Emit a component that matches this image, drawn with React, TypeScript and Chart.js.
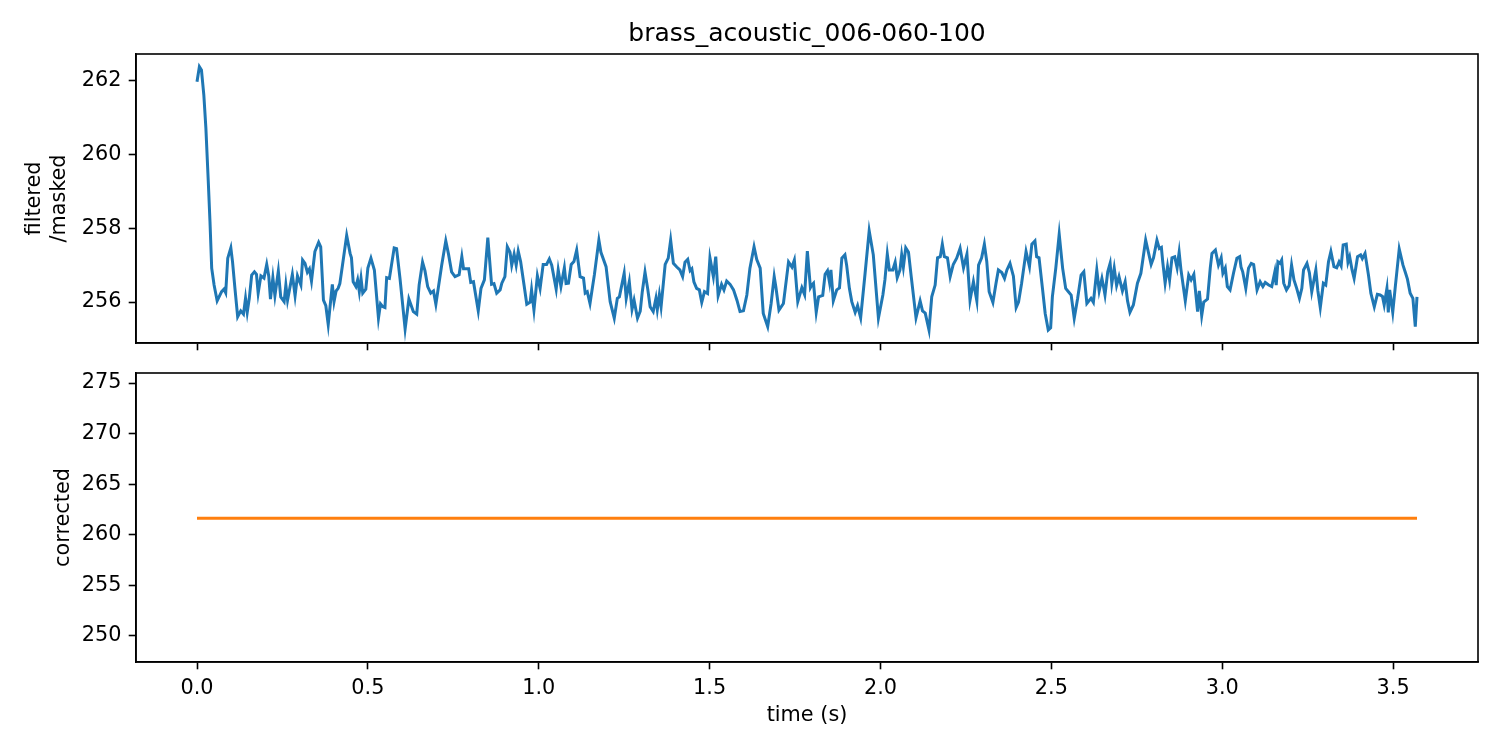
import React, { useEffect, useRef } from "react";
import { Chart, registerables } from "chart.js";

Chart.register(...registerables);

const TITLE = "brass_acoustic_006-060-100";

const filteredTimes = [
  0, 0.007, 0.013, 0.02, 0.026, 0.033, 0.038, 0.043, 0.05, 0.059, 0.072, 0.079, 0.084, 0.09, 0.099, 0.104,
  0.111, 0.119, 0.128, 0.136, 0.142, 0.147, 0.153, 0.16, 0.168, 0.174, 0.179, 0.187, 0.196, 0.204, 0.21,
  0.215, 0.222, 0.228, 0.238, 0.245, 0.255, 0.26, 0.265, 0.279, 0.287, 0.294, 0.304, 0.309, 0.316, 0.323,
  0.329, 0.335, 0.345, 0.356, 0.362, 0.37, 0.377, 0.384, 0.396, 0.401, 0.407, 0.413, 0.418, 0.426, 0.438,
  0.448, 0.452, 0.457, 0.465, 0.47, 0.475, 0.48, 0.485, 0.494, 0.5, 0.509, 0.519, 0.531, 0.537, 0.543,
  0.55, 0.555, 0.563, 0.577, 0.584, 0.594, 0.609, 0.62, 0.633, 0.643, 0.65, 0.66, 0.667, 0.675, 0.684,
  0.692, 0.699, 0.716, 0.728, 0.736, 0.745, 0.755, 0.767, 0.775, 0.78, 0.795, 0.801, 0.809, 0.823, 0.831,
  0.841, 0.851, 0.862, 0.869, 0.877, 0.887, 0.892, 0.901, 0.908, 0.916, 0.921, 0.928, 0.934, 0.94, 0.947,
  0.957, 0.965, 0.975, 0.979, 0.986, 0.996, 1.004, 1.013, 1.023, 1.031, 1.038, 1.051, 1.057, 1.065, 1.075,
  1.08, 1.087, 1.095, 1.103, 1.111, 1.121, 1.131, 1.136, 1.142, 1.15, 1.163, 1.176, 1.182, 1.197, 1.209,
  1.221, 1.23, 1.236, 1.25, 1.256, 1.265, 1.273, 1.279, 1.289, 1.297, 1.303, 1.311, 1.319, 1.326, 1.335,
  1.343, 1.347, 1.353, 1.358, 1.37, 1.379, 1.386, 1.394, 1.404, 1.413, 1.421, 1.428, 1.436, 1.443, 1.448,
  1.454, 1.462, 1.47, 1.477, 1.485, 1.494, 1.501, 1.511, 1.518, 1.525, 1.535, 1.542, 1.55, 1.56, 1.57,
  1.58, 1.589, 1.599, 1.609, 1.618, 1.63, 1.638, 1.648, 1.657, 1.67, 1.68, 1.689, 1.694, 1.703, 1.716,
  1.731, 1.741, 1.748, 1.758, 1.77, 1.778, 1.786, 1.795, 1.799, 1.804, 1.812, 1.819, 1.831, 1.838, 1.845,
  1.851, 1.855, 1.862, 1.872, 1.88, 1.887, 1.896, 1.901, 1.909, 1.916, 1.926, 1.933, 1.942, 1.955, 1.967,
  1.979, 1.994, 2.007, 2.013, 2.02, 2.026, 2.036, 2.043, 2.049, 2.057, 2.062, 2.067, 2.074, 2.082, 2.09,
  2.104, 2.116, 2.123, 2.131, 2.142, 2.15, 2.16, 2.167, 2.175, 2.181, 2.187, 2.196, 2.204, 2.213, 2.223,
  2.233, 2.243, 2.253, 2.262, 2.272, 2.282, 2.287, 2.296, 2.304, 2.311, 2.318, 2.329, 2.338, 2.345, 2.355,
  2.363, 2.37, 2.379, 2.389, 2.397, 2.404, 2.413, 2.426, 2.436, 2.443, 2.452, 2.457, 2.464, 2.474, 2.482,
  2.491, 2.498, 2.503, 2.513, 2.523, 2.533, 2.542, 2.55, 2.558, 2.567, 2.577, 2.587, 2.595, 2.604, 2.616,
  2.623, 2.633, 2.64, 2.648, 2.653, 2.657, 2.665, 2.672, 2.677, 2.684, 2.691, 2.698, 2.708, 2.716, 2.723,
  2.73, 2.74, 2.752, 2.762, 2.776, 2.784, 2.792, 2.799, 2.809, 2.816, 2.822, 2.826, 2.833, 2.84, 2.846,
  2.853, 2.861, 2.868, 2.874, 2.879, 2.892, 2.902, 2.909, 2.917, 2.923, 2.928, 2.933, 2.94, 2.946, 2.957,
  2.965, 2.97, 2.98, 2.989, 2.997, 3.002, 3.009, 3.015, 3.023, 3.033, 3.043, 3.051, 3.055, 3.06, 3.069,
  3.077, 3.085, 3.092, 3.102, 3.111, 3.119, 3.126, 3.136, 3.145, 3.154, 3.158, 3.163, 3.169, 3.174, 3.18,
  3.188, 3.196, 3.203, 3.21, 3.218, 3.226, 3.233, 3.238, 3.248, 3.255, 3.262, 3.274, 3.28, 3.287, 3.296,
  3.303, 3.311, 3.318, 3.327, 3.335, 3.342, 3.348, 3.354, 3.363, 3.368, 3.373, 3.38, 3.386, 3.396, 3.405,
  3.41, 3.418, 3.428, 3.435, 3.445, 3.454, 3.462, 3.469, 3.474, 3.482, 3.486, 3.49, 3.499, 3.506, 3.518,
  3.529, 3.536, 3.542, 3.55, 3.558, 3.565, 3.57,
];

const filteredValues = [
  261.98, 262.39, 262.3, 261.62, 260.72, 259.27, 258.18, 256.92, 256.46, 256.03, 256.28, 256.35, 256.25, 257.19, 257.47, 257.09,
  256.37, 255.6, 255.76, 255.67, 256.1, 255.72, 256.1, 256.73, 256.82, 256.75, 256.24, 256.71, 256.65, 257.02, 256.7,
  256.08, 256.66, 256.17, 256.84, 256.14, 256.01, 256.46, 256.05, 256.75, 256.17, 256.71, 256.46, 257.14, 257.05, 256.81,
  256.9, 256.57, 257.37, 257.62, 257.5, 256.05, 255.9, 255.39, 256.48, 256.01, 256.3, 256.37, 256.5, 257.02, 257.81,
  257.32, 257.2, 256.55, 256.42, 256.6, 256.28, 256.64, 256.24, 256.35, 256.92, 257.19, 256.87, 255.56, 255.95, 255.88,
  255.85, 256.66, 256.64, 257.47, 257.45, 256.64, 255.27, 256.08, 255.74, 255.67, 256.46, 257.08, 256.85, 256.42, 256.24,
  256.3, 255.94, 257.0, 257.66, 257.3, 256.82, 256.69, 256.74, 257.23, 256.9, 256.9, 256.53, 256.55, 255.76, 256.37,
  256.6, 257.75, 256.48, 256.5, 256.24, 256.33, 256.51, 256.69, 257.5, 257.35, 257.0, 257.3, 257.0, 257.38, 257.1,
  256.46, 255.94, 256.0, 256.33, 255.78, 256.71, 256.37, 257.02, 257.02, 257.17, 257.0, 256.35, 256.87, 256.42, 256.93,
  256.5, 256.51, 257.02, 257.1, 257.41, 256.69, 256.65, 256.24, 256.28, 255.96, 256.75, 257.68, 257.35, 256.96, 256.01,
  255.56, 256.1, 256.14, 256.78, 256.1, 256.55, 255.8, 256.05, 255.56, 255.75, 256.28, 256.81, 256.35, 255.87, 255.74,
  256.1, 255.8, 256.2, 255.87, 257.02, 257.19, 257.68, 257.05, 256.95, 256.87, 256.69, 257.08, 257.16, 256.85, 256.9,
  256.55, 256.37, 256.33, 255.99, 256.28, 256.23, 257.2, 256.69, 257.23, 256.17, 256.48, 256.33, 256.57, 256.48, 256.33,
  256.05, 255.74, 255.76, 256.19, 256.92, 257.5, 257.15, 256.92, 255.69, 255.33, 255.96, 256.69, 256.4, 255.78, 255.96,
  257.09, 256.95, 257.14, 256.01, 256.39, 256.2, 257.38, 256.39, 256.46, 256.51, 255.72, 256.14, 256.18, 256.75, 256.85,
  256.53, 256.87, 256.03, 256.33, 256.38, 257.19, 257.28, 257.0, 256.37, 256.01, 255.72, 255.9, 255.57, 256.78, 257.93,
  257.28, 255.56, 256.19, 256.6, 257.3, 256.87, 256.87, 257.08, 256.66, 256.87, 257.28, 256.95, 257.47, 257.35, 256.69,
  255.57, 256.03, 255.76, 255.7, 255.24, 256.14, 256.46, 257.2, 257.23, 257.57, 257.23, 257.2, 256.69, 257.02, 257.19,
  257.46, 256.93, 257.3, 256.05, 256.55, 256.03, 257.0, 257.2, 257.57, 257.1, 256.28, 255.99, 256.5, 256.87, 256.8,
  256.64, 256.87, 257.05, 256.7, 255.85, 256.0, 256.51, 257.37, 256.96, 257.57, 257.66, 257.23, 257.2, 256.37, 255.69,
  255.24, 255.3, 256.14, 256.92, 257.84, 256.92, 256.37, 256.28, 256.19, 255.56, 256.1, 256.73, 256.82, 255.96, 256.1,
  255.99, 256.87, 256.3, 256.64, 256.4, 256.19, 256.82, 257.05, 256.5, 256.92, 256.45, 256.69, 256.3, 256.55, 256.03,
  255.72, 255.92, 256.51, 256.78, 257.68, 257.35, 257.02, 257.2, 257.68, 257.45, 257.48, 257.09, 256.51, 256.96, 256.6,
  257.2, 257.23, 256.93, 257.35, 256.9, 256.03, 256.73, 256.6, 256.75, 256.2, 255.74, 256.3, 255.63, 256.0, 256.08,
  256.92, 257.32, 257.41, 257.0, 257.2, 256.78, 256.92, 256.42, 256.33, 256.78, 257.19, 257.23, 256.95, 256.82, 256.37,
  256.92, 257.05, 257.02, 256.33, 256.55, 256.42, 256.53, 256.46, 256.42, 256.82, 256.46, 257.09, 257.05, 257.14, 256.51,
  256.33, 256.45, 257.0, 256.6, 256.37, 256.1, 256.37, 256.87, 257.05, 256.8, 256.28, 256.87, 256.3, 255.85, 256.51,
  256.46, 257.09, 257.37, 256.96, 256.93, 257.09, 256.98, 257.55, 257.57, 257.08, 257.23, 256.87, 256.64, 257.23, 257.28,
  257.18, 257.32, 256.73, 256.24, 255.87, 256.21, 256.19, 256.15, 255.92, 256.37, 255.72, 256.33, 255.72, 256.37, 257.44,
  257.0, 256.8, 256.62, 256.24, 256.1, 255.33, 256.14,
];

const correctedTimes = [0, 3.57];
const correctedValues = [261.63, 261.63];

const xTicks = [0, 0.5, 1, 1.5, 2, 2.5, 3, 3.5];
const topYTicks = [256, 258, 260, 262];
const bottomYTicks = [250, 255, 260, 265, 270, 275];

const X_MIN = -0.1785;
const X_MAX = 3.7485;
const TOP_Y_MIN = 254.887;
const TOP_Y_MAX = 262.733;
const BOT_Y_MIN = 247.43;
const BOT_Y_MAX = 275.99;

const FONT = "'DejaVu Sans', sans-serif";
const TICK_FONT = { family: FONT, size: 20.8, lineHeight: 1.2 };

const framePlugin = {
  id: "frame",
  afterDraw(chart: any) {
    const { ctx, chartArea } = chart;
    const { left, top, right, bottom } = chartArea;
    ctx.save();
    ctx.strokeStyle = "#000";
    ctx.lineWidth = 1.6;
    ctx.strokeRect(left, top, right - left, bottom - top);
    ctx.restore();
  },
};

function xScale(showLabels: boolean, height: number) {
  return {
    type: "linear",
    min: X_MIN,
    max: X_MAX,
    afterBuildTicks: (s: any) => {
      s.ticks = xTicks.map((v) => ({ value: v }));
    },
    afterFit: (s: any) => {
      s.height = height;
      s.paddingLeft = 0;
      s.paddingRight = 0;
    },
    ticks: {
      display: showLabels,
      font: TICK_FONT,
      color: "#000",
      padding: 7.3,
      maxRotation: 0,
      autoSkip: false,
      callback: (v: any) => Number(v).toFixed(1),
    },
    grid: {
      display: true,
      drawOnChartArea: false,
      drawTicks: true,
      tickLength: 7.3,
      tickWidth: 1.6,
      tickColor: "#000",
    },
    border: { display: true, color: "#000", width: 1.6 },
    title: showLabels
      ? {
          display: true,
          text: "time (s)",
          font: TICK_FONT,
          color: "#000",
          padding: { top: 0, bottom: 21.5 },
        }
      : { display: false },
  };
}

function yScale(min: number, max: number, ticks: number[], label: string | string[], titlePadTop: number) {
  return {
    type: "linear",
    min,
    max,
    afterBuildTicks: (s: any) => {
      s.ticks = ticks.map((v) => ({ value: v }));
    },
    afterFit: (s: any) => {
      s.width = 136;
      s.paddingTop = 0;
      s.paddingBottom = 0;
    },
    ticks: {
      font: TICK_FONT,
      color: "#000",
      padding: 7.3,
      autoSkip: false,
      callback: (v: any) => String(Math.round(Number(v))),
    },
    grid: {
      display: true,
      drawOnChartArea: false,
      drawTicks: true,
      tickLength: 7.3,
      tickWidth: 1.6,
      tickColor: "#000",
    },
    border: { display: true, color: "#000", width: 1.6 },
    title: {
      display: true,
      text: label,
      font: TICK_FONT,
      color: "#000",
      padding: { top: titlePadTop, bottom: 0 },
    },
  };
}

export default function App() {
  const topRef = useRef<HTMLCanvasElement>(null);
  const botRef = useRef<HTMLCanvasElement>(null);

  useEffect(() => {
    const topData = filteredTimes.map((t, i) => ({ x: t, y: filteredValues[i] }));
    const botData = correctedTimes.map((t, i) => ({ x: t, y: correctedValues[i] }));

    const topChart = new Chart(topRef.current as HTMLCanvasElement, {
      type: "line",
      data: {
        datasets: [
          {
            data: topData,
            borderColor: "#1f77b4",
            borderWidth: 3,
            pointRadius: 0,
            tension: 0,
            fill: false,
          },
        ],
      },
      options: {
        responsive: false,
        animation: false,
        devicePixelRatio: 1,
        layout: { padding: { left: 0, right: 22, top: 54, bottom: 0 } },
        plugins: {
          legend: { display: false },
          tooltip: { enabled: false },
          title: { display: false },
        },
        scales: {
          x: xScale(false, 17),
          y: yScale(TOP_Y_MIN, TOP_Y_MAX, topYTicks, ["filtered", "/masked"], 22.5),
        },
      } as any,
      plugins: [framePlugin],
    });

    const botChart = new Chart(botRef.current as HTMLCanvasElement, {
      type: "line",
      data: {
        datasets: [
          {
            data: botData,
            borderColor: "#ff7f0e",
            borderWidth: 3,
            pointRadius: 0,
            tension: 0,
            fill: false,
          },
        ],
      },
      options: {
        responsive: false,
        animation: false,
        devicePixelRatio: 1,
        layout: { padding: { left: 0, right: 22, top: 13, bottom: 0 } },
        plugins: {
          legend: { display: false },
          tooltip: { enabled: false },
          title: { display: false },
        },
        scales: {
          x: xScale(true, 88),
          y: yScale(BOT_Y_MIN, BOT_Y_MAX, bottomYTicks, "corrected", 51.5),
        },
      } as any,
      plugins: [framePlugin],
    });

    return () => {
      topChart.destroy();
      botChart.destroy();
    };
  }, []);

  return (
    <div style={{ position: "absolute", left: 0, top: 0, width: 1500, height: 750, background: "#fff" }}>
      <div style={{ position: "absolute", left: 0, top: 0, width: 1500, height: 360 }}>
        <canvas ref={topRef} width={1500} height={360} style={{ display: "block" }} />
      </div>
      <div style={{ position: "absolute", left: 0, top: 360, width: 1500, height: 390 }}>
        <canvas ref={botRef} width={1500} height={390} style={{ display: "block" }} />
      </div>
      <div
        style={{
          position: "absolute",
          left: 136,
          top: 18,
          width: 1342,
          height: 30,
          lineHeight: "30px",
          textAlign: "center",
          fontFamily: FONT,
          fontSize: 25,
          color: "#000",
          whiteSpace: "nowrap",
        }}
      >
        {TITLE}
      </div>
    </div>
  );
}
